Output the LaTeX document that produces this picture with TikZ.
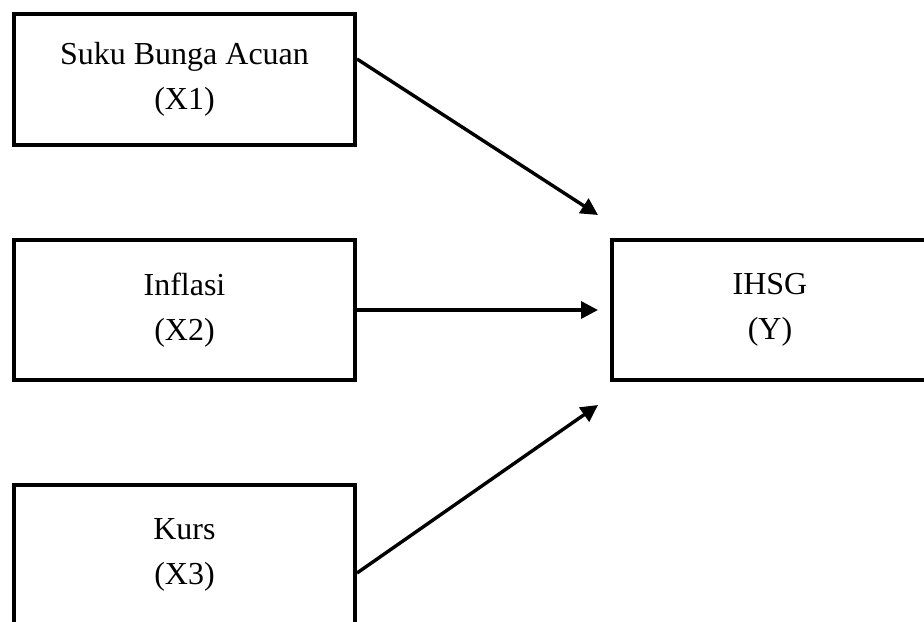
\documentclass[tikz,border=0pt]{standalone}
\usepackage{fontspec}
\setmainfont{Liberation Serif}
\usetikzlibrary{positioning,arrows.meta}

\begin{document}
\begin{tikzpicture}[
			x=0.5pt, y=-0.5pt,
			var/.style={
				draw,
				line width=2pt,
				align=center,
				inner sep=0pt,
				minimum width=170.5pt,
				minimum height=70pt,
				font=\fontsize{16}{22.5}\selectfont
			},
			arrow/.style={-{Triangle[length=8.5pt,width=8.5pt]},line width=1.7pt}
			]
			
			\useasboundingbox (0,0) rectangle (924,621);
			\clip (0,0) rectangle (924,621);
			
			\node[var,minimum height=65.5pt] (suku) at (184.5,79) {Suku Bunga Acuan\\(X1)};
			\node[var] (infl) at (184.5,310) {Inflasi\\(X2)};
			\node[var] (kurs) at (184.5,555) {Kurs\\(X3)};
			\node[var,minimum width=158pt] (ihsg) at (770,310) {IHSG\\(Y)};
			
			\draw[arrow] ([yshift=10pt]suku.east) -- ([xshift=-6pt,yshift=11.5pt]ihsg.north west);
			\draw[arrow] (infl.east) -- ([xshift=-6pt]ihsg.west);
			\draw[arrow] ([yshift=-9pt]kurs.east) -- ([xshift=-6pt,yshift=-11.5pt]ihsg.south west);
			
		\end{tikzpicture}
\end{document}
